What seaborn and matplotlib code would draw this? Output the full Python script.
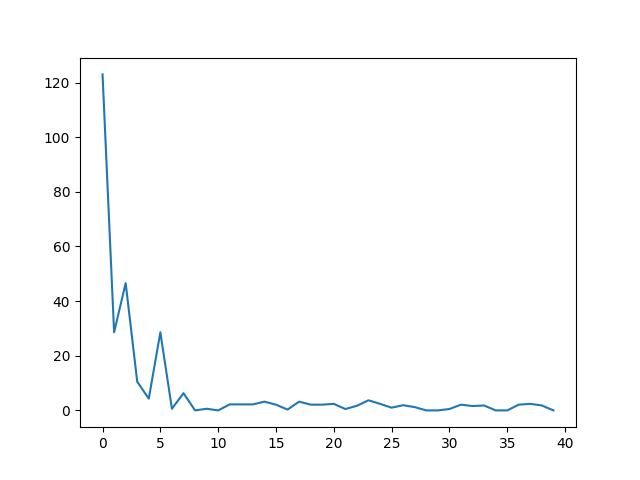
import numpy as np
import pandas as pd
import matplotlib
matplotlib.use("Agg")
import matplotlib.pyplot as plt
import seaborn as sns

# values, one per index 0..39
steps = list(range(40))
values = [123.0, 28.6, 46.6, 10.5, 4.3, 28.6, 0.6, 6.3, 0.0, 0.6,
          0.0, 2.2, 2.2, 2.2, 3.2, 2.1, 0.3, 3.2, 2.1, 2.1,
          2.4, 0.5, 1.7, 3.7, 2.4, 1.0, 1.9, 1.2, 0.0, 0.0,
          0.5, 2.1, 1.6, 1.8, 0.0, 0.0, 2.1, 2.4, 1.8, 0.0]

df = pd.DataFrame({'step': steps, 'value': values})

fig, ax = plt.subplots(figsize=(6.4, 4.8), dpi=100)
sns.lineplot(data=df, x='step', y='value', ax=ax, color='#1f77b4')
ax.set_xlabel('')
ax.set_ylabel('')

fig.savefig('out.png', dpi=100)
